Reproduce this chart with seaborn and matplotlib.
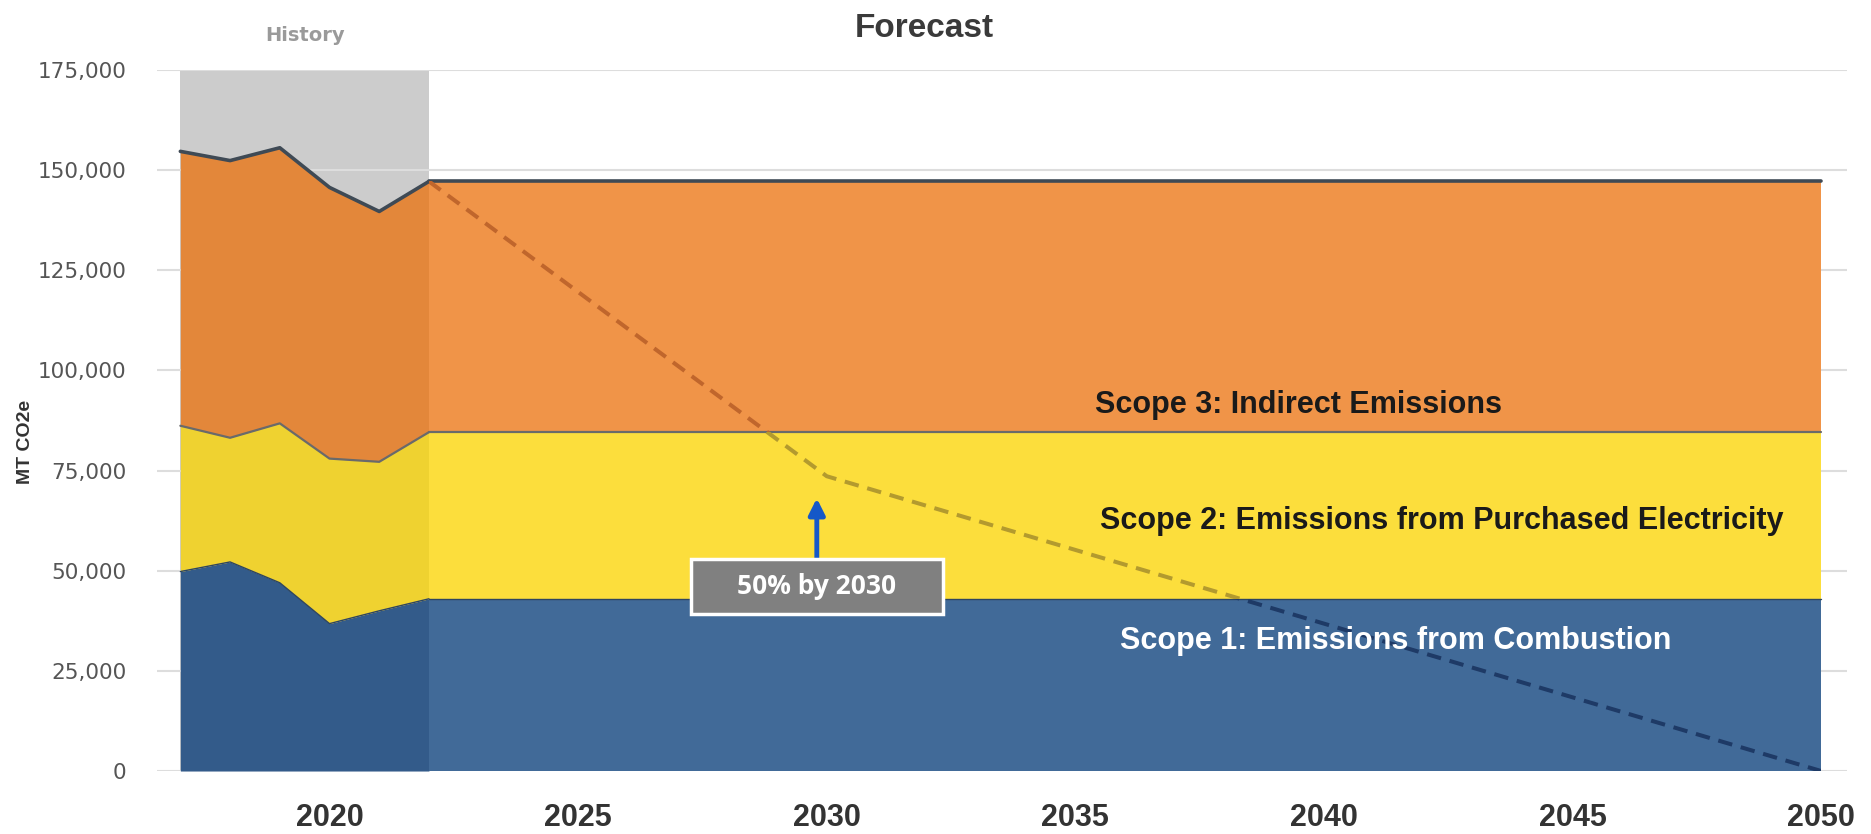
import matplotlib
matplotlib.use("Agg")
import matplotlib.pyplot as plt
from matplotlib.patches import Rectangle
import seaborn as sns
import pandas as pd

# Historical emissions by scope (MT CO2e)
hist_years = [2017, 2018, 2019, 2020, 2021, 2022]
scope1_hist = [49800, 52200, 47000, 36800, 40000, 43000]
scope2_hist = [36400, 31000, 39800, 41200, 37200, 41600]
scope3_hist = [68500, 69200, 68800, 67700, 62500, 62600]

# Business-as-usual forecast held at 2022 levels
fcst_years = [2022, 2050]
scope1_fcst = [43000, 43000]
scope2_fcst = [41600, 41600]
scope3_fcst = [62600, 62600]

# Reduction pathway: 50% by 2030, net zero by 2050
target_years = [2022, 2030, 2050]
target_vals = [147200, 73600, 0]

x_ticks = [2020, 2025, 2030, 2035, 2040, 2045, 2050]
y_ticks = [0, 25000, 50000, 75000, 100000, 125000, 150000, 175000]

hist_colors = ["#335B8A", "#EFD230", "#E3873A"]
fcst_colors = ["#416A98", "#FCDE3C", "#F09448"]
path_colors = ["#1E3A66", "#B39A2E", "#C0662C"]

sns.set_theme(style="white")
plt.rcParams["font.family"] = ["DejaVu Sans"]

fig = plt.figure(figsize=(18.71, 8.34), dpi=100)
ax = fig.add_axes([0.0839, 0.0755, 0.9033, 0.8405])

hist = pd.DataFrame({"year": hist_years, "s1": scope1_hist,
                     "s2": scope2_hist, "s3": scope3_hist})
fcst = pd.DataFrame({"year": fcst_years, "s1": scope1_fcst,
                     "s2": scope2_fcst, "s3": scope3_fcst})
for df in (hist, fcst):
    df["c1"] = df["s1"]
    df["c2"] = df["s1"] + df["s2"]
    df["c3"] = df["c2"] + df["s3"]

# grey band marking the historical period
ax.axvspan(hist_years[0], hist_years[-1], ymin=0, ymax=1, color="#CCCCCC",
           lw=0, zorder=0.5)

# stacked areas
fcst_polys = []
for df, cols, store in ((hist, hist_colors, None), (fcst, fcst_colors, fcst_polys)):
    lower = [0] * len(df)
    for key, col in zip(["c1", "c2", "c3"], cols):
        p = ax.fill_between(df["year"], lower, df[key], color=col, lw=0, zorder=1)
        if store is not None:
            store.append(p)
        lower = df[key]

# boundary lines between layers
for df in (hist, fcst):
    sns.lineplot(data=df, x="year", y="c1", ax=ax, color="#2E4560", lw=1.0,
                 zorder=2, legend=False)
    sns.lineplot(data=df, x="year", y="c2", ax=ax, color="#6A6A6A", lw=1.6,
                 zorder=2, legend=False)
    sns.lineplot(data=df, x="year", y="c3", ax=ax, color="#3F4A55", lw=2.6,
                 zorder=2, legend=False)

# reduction pathway, tinted darker within each layer
target = pd.DataFrame({"year": target_years, "val": target_vals})
for poly, col in zip(fcst_polys, path_colors):
    sns.lineplot(data=target, x="year", y="val", ax=ax, color=col, lw=2.9,
                 zorder=3, legend=False)
    ln = ax.lines[-1]
    ln.set_dashes((3.6, 2.2))
    ln.set_clip_path(poly.get_paths()[0], ax.transData)

# axes styling
ax.set_xlim(2016.53, 2050.52)
ax.set_ylim(0, 175000)
ax.set_xticks(x_ticks)
ax.set_yticks(y_ticks)
ax.set_yticklabels([f"{v:,}" for v in y_ticks])
ax.grid(axis="y", color="#DDDDDD", lw=1.5, zorder=0)
ax.grid(axis="x", visible=False)
ax.set_axisbelow(True)
for s in ax.spines.values():
    s.set_visible(False)
ax.tick_params(axis="y", length=0, pad=22, labelsize=15.5, labelcolor="#555555")
ax.tick_params(axis="x", length=0, pad=23)
for lab in ax.get_xticklabels():
    lab.set_fontfamily("Liberation Sans")
    lab.set_fontweight("bold")
    lab.set_fontsize(22)
    lab.set_color("#333333")

ax.set_xlabel("")
ax.set_ylabel("MT CO2e", fontsize=14, fontweight="bold", color="#333333",
              family="Liberation Sans")
ax.yaxis.set_label_coords(-0.073, 0.47)

fig.text(0.494, 0.966, "Forecast", ha="center", va="center", fontsize=24,
         fontweight="bold", color="#3A3A3A", family="Liberation Sans")
fig.text(0.163, 0.958, "History", ha="center", va="center", fontsize=14,
         fontweight="bold", color="#9A9A9A")

# layer labels
lab_kw = dict(fontsize=22, fontweight="bold", family="Liberation Sans",
              va="center", ha="left", zorder=5)
ax.text(2035.4, 91300, "Scope 3: Indirect Emissions", color="#1A1A1A", **lab_kw)
ax.text(2035.5, 62400, "Scope 2: Emissions from Purchased Electricity",
        color="#1A1A1A", **lab_kw)
ax.text(2035.9, 32400, "Scope 1: Emissions from Combustion", color="white",
        **lab_kw)

# 2030 milestone callout
ax.annotate("", xy=(2029.8, 68100), xytext=(2029.8, 52900),
            arrowprops=dict(arrowstyle="-|>", color="#1558C8", lw=3.5,
                            mutation_scale=24, shrinkA=0, shrinkB=0),
            zorder=6)
ax.add_patch(Rectangle((2027.28, 39200), 5.05, 13700, facecolor="#808080",
                       edgecolor="white", lw=2.5, zorder=6))
ax.text(2029.8, 46050, "50% by 2030", ha="center", va="center", fontsize=19,
        fontweight="bold", color="white", family="Open Sans", zorder=7)

fig.savefig("out.png", dpi=100, facecolor="white")
